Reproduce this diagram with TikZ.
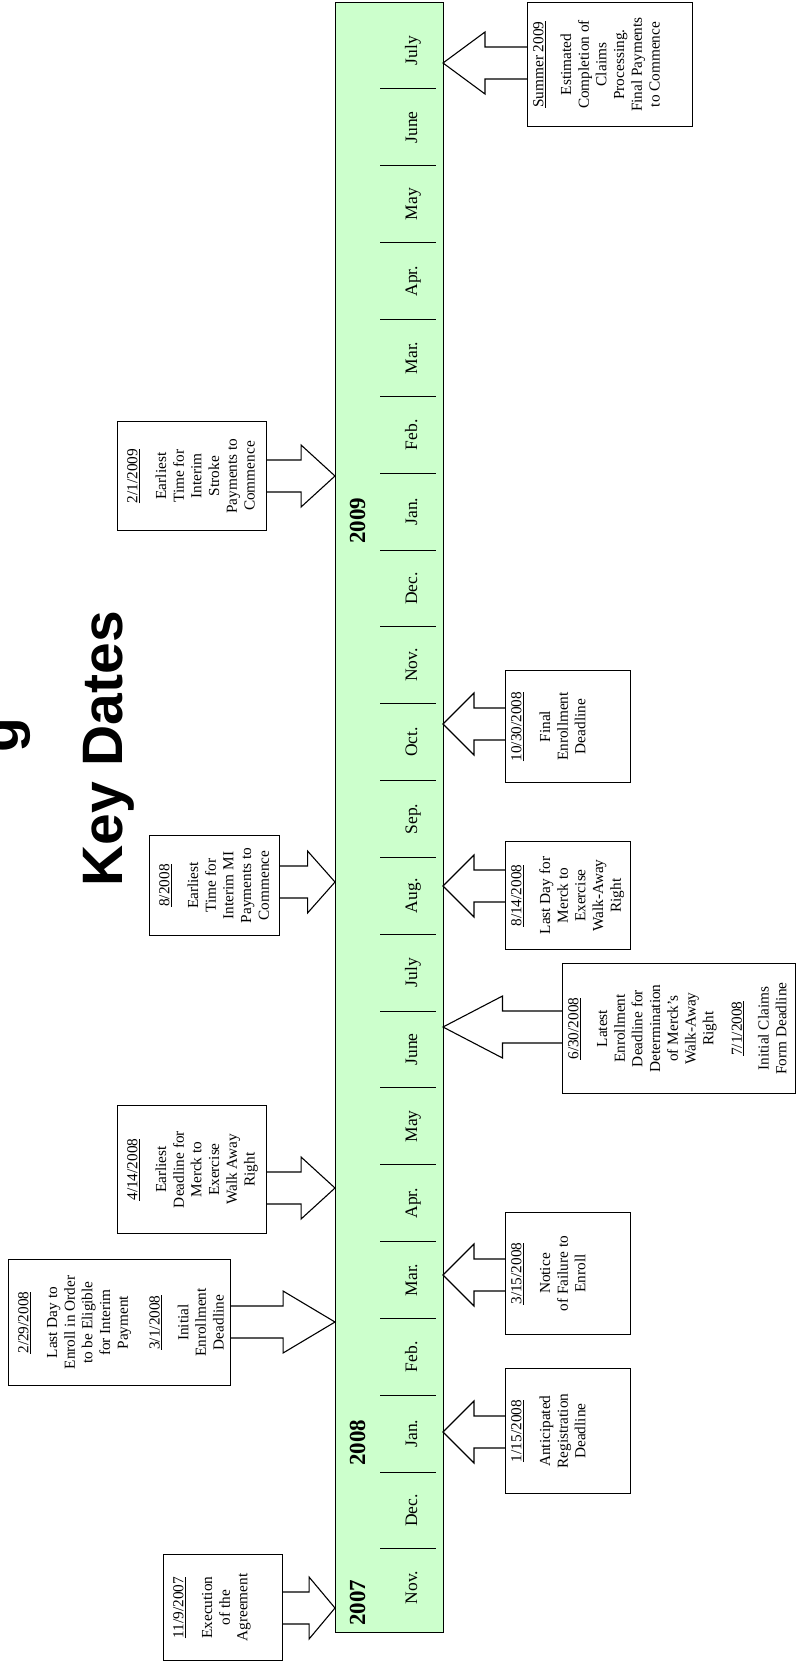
\documentclass[tikz,border=0pt]{standalone}
\usepackage{fontspec}
\setmainfont{Liberation Serif}
\newfontfamily\titlefont{Liberation Sans}
\usetikzlibrary{calc}
\definecolor{barfill}{HTML}{CCFFCC}
\newcommand\blockarr[2]{%
  \draw[blockarrow] let \p1=(#1 |- #2), \p2=(#2), \p3=($(\p1)!0.5!(\p2)$) in
    (\x1,\y2+16pt) -- (\x3,\y2+16pt) -- (\x3,\y2+31pt) -- (\x2,\y2) --
    (\x3,\y2-31pt) -- (\x3,\y2-16pt) -- (\x1,\y2-16pt);}
\begin{document}
\begin{tikzpicture}[x=1pt,y=-1pt,
  boxframe/.style={draw, line width=1.1pt, inner sep=0pt, anchor=north west},
  boxtext/.style={rotate=90, anchor=north, align=center, inner sep=0pt,
    font=\fontsize{15.3}{17.7}\selectfont},
  monthlbl/.style={rotate=90, anchor=base, inner sep=0pt,
    font=\fontsize{17.5}{20}\selectfont},
  yearlbl/.style={rotate=90, anchor=base west, inner sep=0pt,
    font=\fontsize{23}{26}\selectfont\bfseries},
  titlelbl/.style={rotate=90, anchor=base, inner sep=0pt,
    font=\titlefont\bfseries\fontsize{57}{62}\selectfont},
  blockarrow/.style={draw, line width=1.1pt, line join=miter},
  tickline/.style={line width=1pt}]
\useasboundingbox (0,0) rectangle (795,1667);

% title
\node[titlelbl] (title) at (122,749) {Key Dates};
\node[titlelbl] (titleg) at (18,735) {g};

% timeline bar
\node[draw, fill=barfill, line width=1.1pt, inner sep=0pt, anchor=north west,
  minimum width=108pt, minimum height=1630pt] (bar) at (335,2) {};
\foreach \k in {0,...,19}
  \draw[tickline] (380,{89+76.84*\k}) -- (436,{89+76.84*\k});
\foreach \m [count=\i from 0] in {July,June,May,Apr.,Mar.,Feb.,Jan.,Dec.,Nov.,Oct.,Sep.,Aug.,July,June,May,Apr.,Mar.,Feb.,Jan.,Dec.,Nov.}
  \node[monthlbl] (m\i) at (417,{89+76.84*(\i-0.5)}) {\m};
\node[yearlbl] (y2009) at (365,544) {2009};
\node[yearlbl] (y2008) at (365,1466) {2008};
\node[yearlbl] (y2007) at (365,1626) {2007};

% boxes
\node[boxframe, minimum width=165pt, minimum height=124pt] (bSum) at (527,2) {};
\node[boxtext] (tSumT) at ($(bSum.west)+(6,0)$) {\underline{Summer 2009}\\[10pt]Estimated\\Completion of\\Claims\\Processing.\\Final Payments\\to Commence};
\coordinate (tSum) at (443,63);
\blockarr{bSum.west}{tSum}

\node[boxframe, minimum width=149pt, minimum height=109pt] (bFeb) at (117,421) {};
\node[boxtext] (tFebT) at ($(bFeb.west)+(10,0)$) {\underline{2/1/2009}\\[11pt]Earliest\\Time for\\Interim\\Stroke\\Payments to\\Commence};
\coordinate (tFeb) at (335,476);
\blockarr{bFeb.east}{tFeb}

\node[boxframe, minimum width=125pt, minimum height=112pt] (bOct) at (505,670) {};
\node[boxtext] (tOctT) at ($(bOct.west)+(6,0)$) {\underline{10/30/2008}\\[11pt]Final\\Enrollment\\Deadline};
\coordinate (tOct) at (443,724);
\blockarr{bOct.west}{tOct}

\node[boxframe, minimum width=130pt, minimum height=100pt] (bAug) at (149,835) {};
\node[boxtext] (tAugT) at ($(bAug.west)+(10,0)$) {\underline{8/2008}\\[11pt]Earliest\\Time for\\Interim MI\\Payments to\\Commence};
\coordinate (tAug) at (335,882);
\blockarr{bAug.east}{tAug}

\node[boxframe, minimum width=125pt, minimum height=108pt] (bAug14) at (505,841) {};
\node[boxtext] (tAug14T) at ($(bAug14.west)+(6,0)$) {\underline{8/14/2008}\\[11pt]Last Day for\\Merck to\\Exercise\\Walk-Away\\Right};
\coordinate (tAug14) at (443,886);
\blockarr{bAug14.west}{tAug14}

\node[boxframe, minimum width=233pt, minimum height=130pt] (bJun) at (562,963) {};
\node[boxtext] (tJunT) at ($(bJun.west)+(6,0)$) {\underline{6/30/2008}\\[11pt]Latest\\Enrollment\\Deadline for\\Determination\\of Merck’s\\Walk-Away\\Right\\[11pt]\underline{7/1/2008}\\[9pt]Initial Claims\\Form Deadline};
\coordinate (tJun) at (443,1027);
\blockarr{bJun.west}{tJun}

\node[boxframe, minimum width=149pt, minimum height=128pt] (bApr) at (117,1105) {};
\node[boxtext] (tAprT) at ($(bApr.west)+(10,0)$) {\underline{4/14/2008}\\[11pt]Earliest\\Deadline for\\Merck to\\Exercise\\Walk Away\\Right};
\coordinate (tApr) at (335,1188);
\blockarr{bApr.east}{tApr}

\node[boxframe, minimum width=222pt, minimum height=126pt] (bFeb29) at (8,1259) {};
\node[boxtext] (tFeb29T) at ($(bFeb29.west)+(10,0)$) {\underline{2/29/2008}\\[11pt]Last Day to\\Enroll in Order\\to be Eligible\\for Interim\\Payment\\[14pt]\underline{3/1/2008}\\[11pt]Initial\\Enrollment\\Deadline};
\coordinate (tFeb29) at (335,1322);
\blockarr{bFeb29.east}{tFeb29}

\node[boxframe, minimum width=125pt, minimum height=122pt] (bMar) at (505,1212) {};
\node[boxtext] (tMarT) at ($(bMar.west)+(6,0)$) {\underline{3/15/2008}\\[11pt]Notice\\of Failure to\\Enroll};
\coordinate (tMar) at (443,1275);
\blockarr{bMar.west}{tMar}

\node[boxframe, minimum width=125pt, minimum height=125pt] (bJan) at (505,1368) {};
\node[boxtext] (tJanT) at ($(bJan.west)+(6,0)$) {\underline{1/15/2008}\\[11pt]Anticipated\\Registration\\Deadline};
\coordinate (tJan) at (443,1432);
\blockarr{bJan.west}{tJan}

\node[boxframe, minimum width=119pt, minimum height=106pt] (bNov) at (163,1554) {};
\node[boxtext] (tNovT) at ($(bNov.west)+(10,0)$) {\underline{11/9/2007}\\[11pt]Execution\\of the\\Agreement};
\coordinate (tNov) at (335,1608);
\blockarr{bNov.east}{tNov}
\end{tikzpicture}
\end{document}
